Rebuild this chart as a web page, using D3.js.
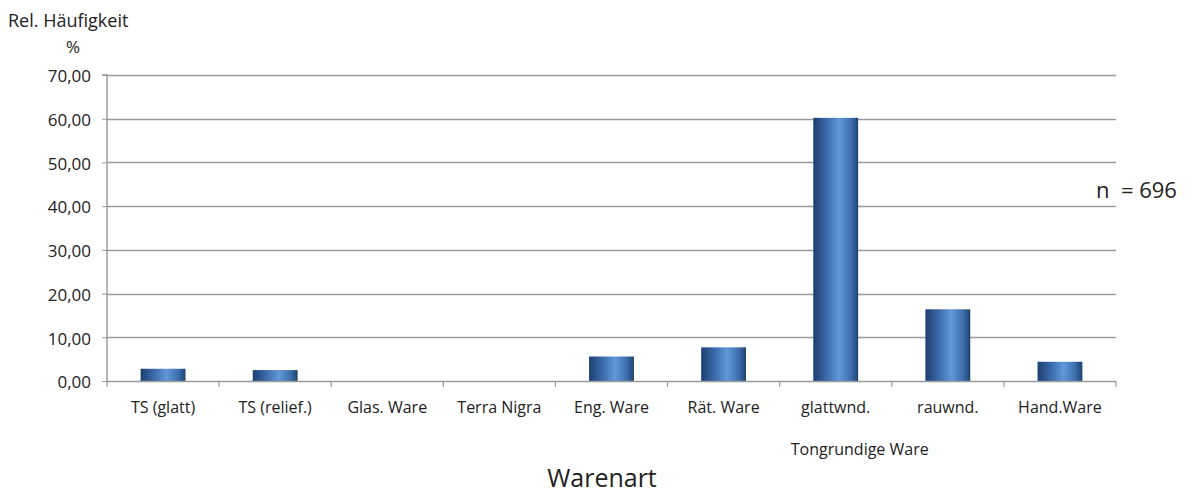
<!DOCTYPE html>
<html><head><meta charset="utf-8">
<script src="https://cdn.jsdelivr.net/npm/d3@7"></script>
<style>
body{margin:0;background:#fff;}
svg{display:block;font-family:"Open Sans","Noto Sans",sans-serif;}
</style></head>
<body>
<svg id="c" width="1192" height="493"></svg>
<script>
const categories = ["TS (glatt)","TS (relief.)","Glas. Ware","Terra Nigra","Eng. Ware","Rät. Ware","glattwnd.","rauwnd.","Hand.Ware"];
const values = [2.8, 2.5, 0, 0, 5.6, 7.7, 60.2, 16.4, 4.4];
const yTicks = [0,10,20,30,40,50,60,70];
const yTitle = "Rel. Häufigkeit";
const yUnit = "%";
const xTitle = "Warenart";
const groupLabel = "Tongrundige Ware";
const nLabel = "n\u00a0\u00a0= 696";

(function(){
const svg = d3.select("#c");
const pLeft = 107, pRight = 1116, pTop = 75, pBottom = 381;
const x = d3.scaleBand().domain(categories).range([pLeft, pRight]).paddingInner(0.6).paddingOuter(0.3);
const xTickScale = d3.scaleLinear().domain([0, categories.length]).range([pLeft, pRight]);
const y = d3.scaleLinear().domain([0,70]).range([pBottom, pTop]);

const defs = svg.append("defs");
const g = defs.append("linearGradient").attr("id","bar").attr("x1","0").attr("x2","1").attr("y1","0").attr("y2","0");
g.append("stop").attr("offset","0%").attr("stop-color","#1c3f6e");
g.append("stop").attr("offset","30%").attr("stop-color","#3a6aab");
g.append("stop").attr("offset","58%").attr("stop-color","#6198da");
g.append("stop").attr("offset","85%").attr("stop-color","#3a6caa");
g.append("stop").attr("offset","100%").attr("stop-color","#1d416f");

// gridlines
svg.append("g").selectAll("line").data(yTicks.filter(d=>d>0)).join("line")
  .attr("x1", pLeft).attr("x2", pRight)
  .attr("y1", d=>Math.round(y(d))+0.5).attr("y2", d=>Math.round(y(d))+0.5)
  .attr("stroke","#9a9a9a").attr("stroke-width",1.5);

// y axis
const yAxis = d3.axisLeft(y).tickValues(yTicks).tickSize(5).tickFormat(d=>d3.format(".2f")(d).replace(".",","));
const ya = svg.append("g").attr("transform",`translate(${pLeft},0)`).call(yAxis);
ya.select(".domain").attr("stroke","#9a9a9a").attr("stroke-width",1.5).attr("d",`M-5,${pTop}H0V${pBottom}`);
ya.selectAll(".tick line").attr("stroke","#9a9a9a");
ya.selectAll(".tick text").attr("font-size","17px").attr("fill","#222").attr("x",-16).attr("dy","0.4em").attr("font-family","'Open Sans',sans-serif");

// bars
svg.append("g").selectAll("rect").data(categories).join("rect")
  .attr("x", d=>x(d)).attr("width", x.bandwidth())
  .attr("y", (d,i)=>y(values[i])).attr("height",(d,i)=>pBottom - y(values[i]))
  .attr("fill","url(#bar)");

// x axis
const xa = svg.append("g");
xa.append("line").attr("x1",pLeft).attr("x2",pRight).attr("y1",pBottom+0.5).attr("y2",pBottom+0.5).attr("stroke","#9a9a9a").attr("stroke-width",1.5);
xa.selectAll("line.t").data(d3.range(categories.length+1)).join("line").attr("class","t")
  .attr("x1",d=>xTickScale(d)).attr("x2",d=>xTickScale(d)).attr("y1",pBottom).attr("y2",pBottom+6)
  .attr("stroke","#9a9a9a").attr("stroke-width",1.2);
xa.selectAll("text").data(categories).join("text")
  .attr("x", d=>x(d)+x.bandwidth()/2).attr("y", 413)
  .attr("text-anchor","middle").attr("font-size","16px").attr("fill","#222").text(d=>d);

svg.append("text").attr("x", x("glattwnd.")+x.bandwidth()/2+24).attr("y",455).attr("text-anchor","middle")
  .attr("font-size","16px").attr("fill","#222").text(groupLabel);
svg.append("text").attr("x",602).attr("y",487).attr("text-anchor","middle").attr("font-size","25px").attr("fill","#222").text(xTitle);
svg.append("text").attr("x",8).attr("y",27).attr("font-size","18px").attr("fill","#222").text(yTitle);
svg.append("text").attr("x",73).attr("y",53).attr("text-anchor","middle").attr("font-size","17px").attr("fill","#222").text(yUnit);
svg.append("text").attr("x",1096).attr("y",198).attr("font-size","22px").attr("fill","#222").text(nLabel);
})();
</script>
</body></html>
